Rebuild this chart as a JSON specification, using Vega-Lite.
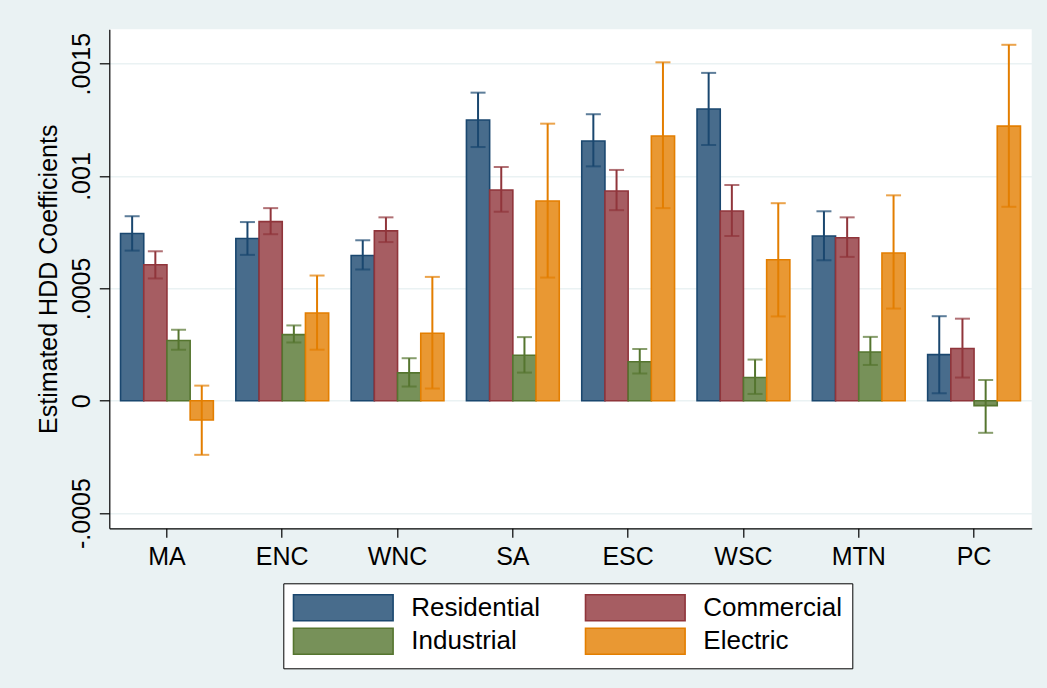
{
  "$schema": "https://vega.github.io/schema/vega-lite/v6.json",
  "width": 922.4,
  "height": 499,
  "autosize": "none",
  "padding": {"left": 109.3, "top": 29.3, "right": 15.3, "bottom": 159.7},
  "background": "#EAF2F3",
  "config": {
    "view": {"stroke": null, "fill": "white"},
    "font": "Liberation Sans",
    "axis": {
      "domainColor": "black",
      "domainWidth": 1.2,
      "tickColor": "black",
      "tickWidth": 1.2,
      "labelColor": "black",
      "titleColor": "black",
      "labelFont": "Liberation Sans",
      "titleFont": "Liberation Sans",
      "titleFontWeight": "normal"
    },
    "legend": {
      "labelFont": "Liberation Sans"
    }
  },
  "data": {
    "values": [
      {"region": "MA", "sector": "Residential", "coef": 0.000744, "lo": 0.000668, "hi": 0.000821},
      {"region": "MA", "sector": "Commercial", "coef": 0.000605, "lo": 0.000544, "hi": 0.000665},
      {"region": "MA", "sector": "Industrial", "coef": 0.000268, "lo": 0.000227, "hi": 0.000316},
      {"region": "MA", "sector": "Electric", "coef": -0.000086, "lo": -0.000241, "hi": 0.000067},
      {"region": "ENC", "sector": "Residential", "coef": 0.000722, "lo": 0.000649, "hi": 0.000795},
      {"region": "ENC", "sector": "Commercial", "coef": 0.000797, "lo": 0.000741, "hi": 0.000857},
      {"region": "ENC", "sector": "Industrial", "coef": 0.000294, "lo": 0.000259, "hi": 0.000335},
      {"region": "ENC", "sector": "Electric", "coef": 0.000390, "lo": 0.000227, "hi": 0.000557},
      {"region": "WNC", "sector": "Residential", "coef": 0.000646, "lo": 0.000584, "hi": 0.000714},
      {"region": "WNC", "sector": "Commercial", "coef": 0.000756, "lo": 0.000706, "hi": 0.000816},
      {"region": "WNC", "sector": "Industrial", "coef": 0.000124, "lo": 0.000063, "hi": 0.000189},
      {"region": "WNC", "sector": "Electric", "coef": 0.000300, "lo": 0.000054, "hi": 0.000551},
      {"region": "SA", "sector": "Residential", "coef": 0.001249, "lo": 0.001129, "hi": 0.001371},
      {"region": "SA", "sector": "Commercial", "coef": 0.000938, "lo": 0.000841, "hi": 0.001040},
      {"region": "SA", "sector": "Industrial", "coef": 0.000202, "lo": 0.000125, "hi": 0.000283},
      {"region": "SA", "sector": "Electric", "coef": 0.000889, "lo": 0.000548, "hi": 0.001233},
      {"region": "ESC", "sector": "Residential", "coef": 0.001156, "lo": 0.001043, "hi": 0.001275},
      {"region": "ESC", "sector": "Commercial", "coef": 0.000933, "lo": 0.000848, "hi": 0.001027},
      {"region": "ESC", "sector": "Industrial", "coef": 0.000173, "lo": 0.000121, "hi": 0.000230},
      {"region": "ESC", "sector": "Electric", "coef": 0.001178, "lo": 0.000857, "hi": 0.001506},
      {"region": "WSC", "sector": "Residential", "coef": 0.001298, "lo": 0.001138, "hi": 0.001459},
      {"region": "WSC", "sector": "Commercial", "coef": 0.000844, "lo": 0.000733, "hi": 0.000960},
      {"region": "WSC", "sector": "Industrial", "coef": 0.000103, "lo": 0.000030, "hi": 0.000183},
      {"region": "WSC", "sector": "Electric", "coef": 0.000627, "lo": 0.000375, "hi": 0.000879},
      {"region": "MTN", "sector": "Residential", "coef": 0.000733, "lo": 0.000625, "hi": 0.000843},
      {"region": "MTN", "sector": "Commercial", "coef": 0.000725, "lo": 0.000640, "hi": 0.000816},
      {"region": "MTN", "sector": "Industrial", "coef": 0.000217, "lo": 0.000159, "hi": 0.000284},
      {"region": "MTN", "sector": "Electric", "coef": 0.000657, "lo": 0.000410, "hi": 0.000914},
      {"region": "PC", "sector": "Residential", "coef": 0.000205, "lo": 0.000033, "hi": 0.000376},
      {"region": "PC", "sector": "Commercial", "coef": 0.000232, "lo": 0.000103, "hi": 0.000365},
      {"region": "PC", "sector": "Industrial", "coef": -0.000022, "lo": -0.000143, "hi": 0.000092},
      {"region": "PC", "sector": "Electric", "coef": 0.001222, "lo": 0.000863, "hi": 0.001584}
    ]
  },
  "encoding": {
    "x": {
      "field": "region",
      "type": "nominal",
      "sort": ["MA", "ENC", "WNC", "SA", "ESC", "WSC", "MTN", "PC"],
      "scale": {"paddingInner": 0.195, "paddingOuter": 0.0975},
      "axis": {
        "title": null,
        "labelAngle": 0,
        "labelFontSize": 25,
        "tickSize": 9,
        "labelPadding": 7,
        "grid": false
      }
    },
    "xOffset": {
      "field": "sector",
      "type": "nominal",
      "sort": ["Residential", "Commercial", "Industrial", "Electric"],
      "scale": {"paddingInner": 0, "paddingOuter": 0}
    }
  },
  "layer": [
    {
      "mark": {"type": "bar", "strokeWidth": 1.6, "fillOpacity": 1},
      "encoding": {
        "y": {
          "field": "coef",
          "type": "quantitative",
          "scale": {"domain": [-0.000568, 0.001653], "nice": false, "zero": false},
          "axis": {
            "title": "Estimated HDD Coefficients",
            "titleFontSize": 25,
            "titlePadding": 8,
            "values": [-0.0005, 0, 0.0005, 0.001, 0.0015],
            "labelExpr": "replace(toString(datum.value), '0.', '.')",
            "labelAngle": -90,
            "labelAlign": "center",
            "labelBaseline": "alphabetic",
            "labelFontSize": 25,
            "labelPadding": 10,
            "tickSize": 10,
            "grid": true,
            "gridColor": "#EAF2F3",
            "gridWidth": 1.5
          }
        },
        "fill": {
          "field": "sector",
          "type": "nominal",
          "sort": ["Residential", "Commercial", "Industrial", "Electric"],
          "scale": {
            "domain": ["Residential", "Commercial", "Industrial", "Electric"],
            "range": ["#486C8C", "#A65D62", "#779159", "#E99833"]
          },
          "legend": {
            "title": null,
            "orient": "none",
            "legendX": 174,
            "legendY": 554,
            "columns": 2,
            "direction": "horizontal",
            "symbolType": "M-3.83,-1H3.83V1H-3.83Z",
            "symbolSize": 676,
            "symbolOffset": 36,
            "symbolStrokeWidth": 1.6,
            "labelFontSize": 26,
            "labelColor": "black",
            "labelOffset": 54,
            "columnPadding": 42,
            "rowPadding": 0,
            "padding": 10,
            "strokeColor": "black",
            "fillColor": "white",
            "labelLimit": 400
          }
        },
        "stroke": {
          "field": "sector",
          "type": "nominal",
          "sort": ["Residential", "Commercial", "Industrial", "Electric"],
          "scale": {
            "domain": ["Residential", "Commercial", "Industrial", "Electric"],
            "range": ["#1A476F", "#90353B", "#55752F", "#E37E00"]
          },
          "legend": {
            "title": null,
            "orient": "none",
            "legendX": 174,
            "legendY": 554,
            "columns": 2,
            "direction": "horizontal",
            "symbolType": "M-3.83,-1H3.83V1H-3.83Z",
            "symbolSize": 676,
            "symbolOffset": 36,
            "symbolStrokeWidth": 1.6,
            "labelFontSize": 26,
            "labelColor": "black",
            "labelOffset": 54,
            "columnPadding": 42,
            "rowPadding": 0,
            "padding": 10,
            "strokeColor": "black",
            "fillColor": "white",
            "labelLimit": 400
          }
        }
      }
    },
    {
      "mark": {"type": "rule", "strokeWidth": 2},
      "encoding": {
        "y": {"field": "lo", "type": "quantitative"},
        "y2": {"field": "hi"},
        "stroke": {"field": "sector", "type": "nominal", "sort": ["Residential", "Commercial", "Industrial", "Electric"]}
      }
    },
    {
      "mark": {"type": "tick", "filled": false, "thickness": 0.01, "size": 13, "strokeWidth": 2},
      "encoding": {
        "y": {"field": "hi", "type": "quantitative"},
        "stroke": {"field": "sector", "type": "nominal", "sort": ["Residential", "Commercial", "Industrial", "Electric"]}
      }
    },
    {
      "mark": {"type": "tick", "filled": false, "thickness": 0.01, "size": 13, "strokeWidth": 2},
      "encoding": {
        "y": {"field": "lo", "type": "quantitative"},
        "stroke": {"field": "sector", "type": "nominal", "sort": ["Residential", "Commercial", "Industrial", "Electric"]}
      }
    }
  ]
}
